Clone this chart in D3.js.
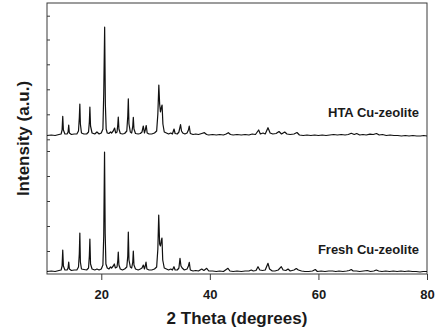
<!DOCTYPE html>
<html><head><meta charset="utf-8">
<script src="https://cdn.jsdelivr.net/npm/d3@7"></script>
<style>
html,body{margin:0;padding:0;background:#fff;}
svg{display:block;}
text{font-family:Arial,"Liberation Sans",sans-serif;font-weight:bold;fill:#1a1a1a;}
</style></head>
<body>
<svg id="chart" width="437" height="335"></svg>
<script>
// ---- data (2θ in degrees, intensity in arbitrary units) ----
const freshTheta = [10.0,10.8,11.5,12.2,12.6,12.78,12.9,13.02,13.3,13.7,13.88,14.0,14.12,14.5,15.0,15.5,15.8,15.95,16.05,16.15,16.35,16.8,17.3,17.65,17.8,17.9,18.02,18.3,18.8,19.2,19.6,20.0,20.3,20.45,20.6,20.72,20.85,21.1,21.4,21.7,21.9,22.2,22.4,22.6,22.9,23.05,23.13,23.25,23.5,23.9,24.3,24.7,24.88,24.98,25.1,25.35,25.6,25.8,25.9,26.02,26.3,26.8,27.2,27.5,27.74,27.95,28.1,28.24,28.4,28.8,29.3,29.8,30.2,30.42,30.58,30.75,30.9,31.05,31.18,31.32,31.6,32.0,32.4,32.8,33.1,33.39,33.6,34.0,34.3,34.5,34.68,34.9,35.3,35.8,36.05,36.21,36.4,36.9,37.4,37.9,38.5,38.9,39.42,39.8,40.5,41.2,41.8,42.5,43.34,43.7,44.3,45.0,45.8,46.5,47.2,47.63,48.0,48.5,48.87,49.2,49.7,50.2,50.71,51.0,51.5,52.0,52.6,53.16,53.5,54.0,54.4,54.8,55.5,55.92,56.3,56.9,57.5,58.2,58.9,59.42,59.8,60.5,61.2,61.9,62.6,63.2,63.8,64.5,65.2,65.7,66.05,66.4,67.0,67.6,68.3,69.0,69.6,70.2,70.66,71.1,71.7,72.4,73.1,73.8,74.5,75.2,75.9,76.6,77.3,78.0,78.7,79.3,80.0];
const freshIntensity = [2.5,3,2.5,3.5,4,8,24,8,4,4,6,12,5,3.5,4,4,7,20,41,12,5,4.5,4,6,18,35,10,5,4,5,4,5,9,38,122,40,10,6,5,7,6,8,10,6,7,14,22,9,5,4,5,7,18,42,14,7,6,12,23,9,5,4,5,6,9,5,8,12,5,4,4,5,7,25,59,30,28,33,36,14,6,5,4,5,4,7.3,4,4,6,15.7,8,6,4,5,8,11.7,4,3,3.5,3,5,3.5,5.7,3,3,2.5,3,2.5,5.7,3,2.5,3,2.5,3,3,4,3,3.5,7.3,4,3.5,4,10.7,5,3,3,4,7.3,4,3.5,5,3,4,5.5,4,3,2.5,2.5,3,4.5,2.5,3,2.5,3,3,2.5,3,2.5,3,3.5,4.5,3,3,2.5,3,3.5,2.5,3,4,3,2.5,3,2.5,3,2.5,3,2.5,3,2.5,2.5,2,2.5,2.5];

const htaTheta = [10.0,10.8,11.5,12.2,12.6,12.78,12.9,13.02,13.3,13.7,13.88,14.0,14.12,14.5,15.0,15.5,15.8,15.95,16.05,16.15,16.35,16.8,17.3,17.65,17.8,17.9,18.02,18.3,18.8,19.2,19.6,20.0,20.3,20.45,20.62,20.75,20.9,21.1,21.4,21.7,21.9,22.2,22.45,22.65,22.9,23.05,23.13,23.25,23.5,23.9,24.3,24.7,24.88,24.98,25.1,25.35,25.6,25.8,25.9,26.02,26.3,26.8,27.2,27.5,27.74,27.95,28.1,28.28,28.45,28.8,29.3,29.8,30.2,30.42,30.6,30.75,30.9,31.05,31.2,31.35,31.6,32.0,32.4,32.8,33.1,33.4,33.6,34.0,34.3,34.6,34.78,35.0,35.4,35.8,36.05,36.2,36.4,36.9,37.4,37.9,38.5,39.0,39.4,39.8,40.5,41.2,41.8,42.5,43.0,43.4,43.8,44.3,45.0,45.8,46.5,47.2,47.8,48.4,48.99,49.3,49.8,50.2,50.71,51.1,51.6,52.2,52.74,53.2,53.79,54.2,54.8,55.5,56.05,56.5,57.2,57.9,58.6,59.3,60.0,60.7,61.4,62.1,62.8,63.5,64.2,64.9,65.5,66.05,66.6,67.05,67.6,68.2,68.8,69.5,70.1,70.7,71.2,71.8,72.5,73.2,73.9,74.6,75.3,76.0,76.7,77.4,78.1,78.8,79.4,80.0];
const htaIntensity = [138.5,139,138.5,139.5,140,144,157.7,144,140,140,142,149,141,139.5,140,140,143,156,170,150,141,140,140,142,152,167,148,141,140,142,140,141,145,180,246.8,170,145,141,140.5,142,141,143,146,141,142,150,157,145,140.5,140,140.5,143,158,175.2,150,142,141,148,156.7,145,140.5,140,140.5,142,148,141,144,148.5,141,140,140,141,143,160,189,170,162,166,169,150,142,141,140,141,140,145,140.5,140,142,149.3,143,141,140,141,144,148,140.5,139.5,140,139.5,140.5,141.3,139.5,139,139.5,139,139.5,139,140,141.3,139.5,139,139.5,139,139.5,139,140,139.5,144,140,141,140,146.3,141,140,140.5,142.5,140,142,140,139.5,140,141.5,139,138.5,139,138.5,139,138.5,139,138.5,139,139.5,139,139.5,139,139.5,140.7,139.5,140.5,139,139.5,139,139.8,139.5,140.5,139,139.5,138.5,139,138.5,138.5,138,138.5,138,138.5,138,138,138.5,138];

const xTicks = [20, 40, 60, 80];
const yTicks = [23, 48, 73, 98, 123, 134.7, 159.7, 184.7, 209.7, 234.5, 258.3];
const seriesLabels = ["Fresh Cu-zeolite", "HTA Cu-zeolite"];
const xTitle = "2 Theta (degrees)";
const yTitle = "Intensity (a.u.)";

// ---- layout ----
const svg = d3.select("#chart");
const mLeft = 47, mRight = 427, mTop = 3, mBottom = 274;
const x = d3.scaleLinear().domain([10, 80]).range([mLeft, mRight]);
const y = d3.scaleLinear().domain([0, 271]).range([mBottom, mTop]);

// frame
svg.append("rect").attr("x", mLeft).attr("y", mTop)
  .attr("width", mRight - mLeft).attr("height", mBottom - mTop)
  .attr("fill", "none").attr("stroke", "#3a3a3a").attr("stroke-width", 1);

// x axis
const xAxis = svg.append("g").attr("transform", `translate(0,${mBottom})`)
  .call(d3.axisBottom(x).tickValues(xTicks).tickSize(6).tickPadding(10).tickFormat(d3.format("d")));
xAxis.select(".domain").remove();
xAxis.selectAll("line").attr("stroke", "#3a3a3a");
xAxis.selectAll("text").attr("font-size", 13).attr("font-family", "Arial, 'Liberation Sans', sans-serif")
  .attr("font-weight", "bold").attr("fill", "#1a1a1a");

// y axis (ticks inward, no labels)
const yAxis = svg.append("g").attr("transform", `translate(${mLeft},0)`)
  .call(d3.axisRight(y).tickValues(yTicks).tickSize(3).tickFormat(""));
yAxis.select(".domain").remove();
yAxis.selectAll("line").attr("stroke", "#3a3a3a");

// lines
const line = d3.line().x(d => x(d[0])).y(d => y(d[1]));
const fresh = freshTheta.map((t, i) => [t, freshIntensity[i]]);
const hta = htaTheta.map((t, i) => [t, htaIntensity[i]]);
[fresh, hta].forEach(s => {
  svg.append("path").datum(s).attr("d", line)
    .attr("fill", "none").attr("stroke", "#111").attr("stroke-width", 1.2)
    .attr("stroke-linejoin", "round");
});

// series labels
svg.append("text").attr("x", 419).attr("y", 254).attr("text-anchor", "end")
  .attr("font-size", 13).text(seriesLabels[0]);
svg.append("text").attr("x", 419).attr("y", 116.5).attr("text-anchor", "end")
  .attr("font-size", 13).text(seriesLabels[1]);

// axis titles
svg.append("text").attr("x", (mLeft + mRight) / 2).attr("y", 324).attr("text-anchor", "middle")
  .attr("font-size", 17).text(xTitle);
svg.append("text").attr("transform", `translate(28.5,${(mTop + mBottom) / 2}) rotate(-90)`)
  .attr("text-anchor", "middle").attr("font-size", 17).text(yTitle);
</script>
</body></html>
